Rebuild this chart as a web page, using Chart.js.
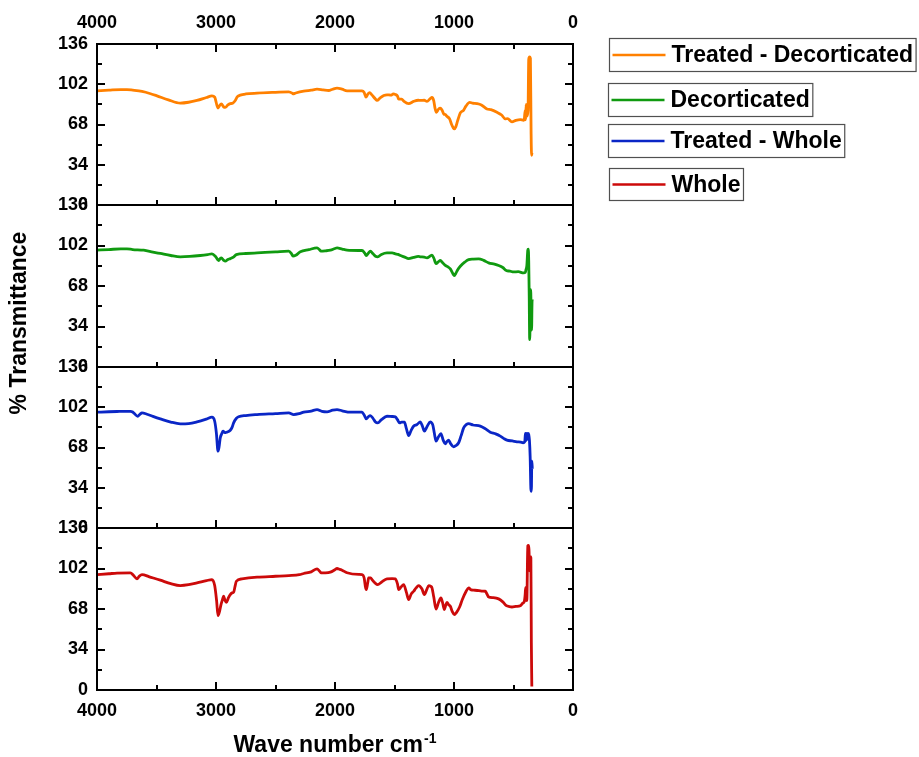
<!DOCTYPE html>
<html><head><meta charset="utf-8">
<script src="https://cdn.jsdelivr.net/npm/chart.js@4"></script>
<style>
html,body{margin:0;padding:0;background:#fff;}
#wrap{position:relative;width:919px;height:757px;overflow:hidden;}
#wrap canvas{position:absolute;left:0;top:0;}
</style>
</head><body>
<div id="wrap">
<canvas id="c1" width="919" height="757"></canvas>
<canvas id="c2" width="919" height="757"></canvas>
<canvas id="c3" width="919" height="757"></canvas>
<canvas id="c4" width="919" height="757"></canvas>
</div>
<script>
// ---- data ----
const seriesLabels = ['Treated - Decorticated', 'Decorticated', 'Treated - Whole', 'Whole'];
const xTicks = [0, 1000, 2000, 3000, 4000];
const xMinor = [500, 1500, 2500, 3500];
const yTicks = [0, 34, 68, 102, 136];
const yMinor = [17, 51, 85, 119];
const xTitle = 'Wave number cm';
const xTitleSup = '-1';
const yTitle = '% Transmittance';

// Treated - Decorticated
const tdWave = [4000,3900,3800,3748,3700,3622,3550,3496,3400,3300,3230,3160,3080,3034,3011,2983,2970,2955,2935,2922,2900,2880,2860,2838,2820,2796,2750,2655,2500,2389,2360,2353,2330,2263,2200,2151,2100,2053,2020,1983,1940,1899,1800,1773,1755,1740,1725,1709,1690,1660,1647,1620,1590,1563,1530,1510,1493,1475,1465,1440,1420,1381,1340,1300,1283,1250,1227,1200,1185,1170,1160,1148,1130,1115,1100,1085,1073,1060,1037,1020,1005,997,985,970,947,920,900,868,845,807,770,723,690,639,600,569,550,513,480,443,415,410,402,398,394,388,378,372,365,358,352,348,345];
const tdT = [96.4,97.0,97.5,97.5,97.0,95.9,94.0,92.2,88.8,86.1,86.8,88.3,90.8,92.2,91.1,81.9,84.0,85.3,82.8,82.5,84.5,85.6,86.0,88.3,91.5,92.8,93.8,94.5,95.2,95.6,94.5,93.9,94.6,96.1,97.0,97.8,97.2,96.7,97.8,98.7,97.8,96.4,96.4,96.4,95.0,91.1,93.5,95.0,93.0,89.5,88.3,90.5,92.5,93.1,92.8,93.8,93.4,92.0,89.5,89.5,87.5,85.6,87.5,88.5,88.3,88.5,87.5,89.8,90.9,88.0,82.0,78.3,81.0,81.9,80.0,76.8,76.4,75.0,72.7,68.0,65.0,64.4,66.0,71.0,77.8,80.0,83.5,86.7,86.0,85.6,84.5,81.1,80.5,78.3,76.0,72.7,73.0,70.2,71.5,72.2,71.6,72.0,80.0,72.0,85.0,75.0,80.0,123.0,125.0,124.0,60.0,42.0,44.0];

// Decorticated
const decWave = [4000,3900,3800,3748,3700,3608,3530,3468,3380,3300,3220,3132,3070,3034,3006,2985,2978,2965,2955,2935,2922,2900,2880,2850,2829,2750,2655,2500,2389,2365,2353,2330,2291,2220,2151,2130,2118,2080,2039,2000,1983,1940,1899,1800,1773,1750,1737,1720,1703,1680,1660,1641,1610,1563,1520,1493,1470,1451,1420,1381,1340,1300,1283,1250,1227,1200,1185,1170,1151,1130,1115,1095,1073,1050,1031,1010,997,985,970,947,910,877,840,793,750,709,660,625,590,560,530,499,460,415,400,395,388,380,376,372,368,364,360,356,352,348,344,340];
const decT = [98.1,98.6,99.2,99.2,98.6,98.1,96.5,95.3,93.6,92.5,92.8,93.6,94.4,95.0,93.0,90.0,89.4,91.0,91.6,89.5,88.8,90.2,91.0,92.5,94.4,95.3,95.8,96.6,97.2,95.0,93.0,93.8,96.7,98.5,100.0,98.5,97.2,97.5,98.1,99.5,100.0,99.0,98.1,97.8,97.8,95.5,93.6,95.5,97.2,95.0,93.0,92.5,94.5,95.8,95.8,95.0,94.5,93.6,92.5,91.0,92.0,92.8,92.5,92.2,91.6,93.2,93.9,91.5,86.8,88.5,89.4,87.5,85.4,84.0,82.4,78.5,76.7,78.5,81.5,84.6,88.0,90.2,90.6,90.8,89.5,87.4,86.3,85.2,83.5,81.0,80.5,79.8,80.0,79.0,79.5,81.8,85.0,98.0,99.0,89.0,60.0,23.0,40.0,65.0,50.0,31.0,55.0,57.0];

// Treated - Whole
const twWave = [4000,3900,3832,3720,3700,3686,3658,3640,3622,3580,3530,3468,3380,3300,3230,3160,3080,3034,3011,2997,2983,2975,2964,2950,2941,2925,2913,2895,2880,2865,2852,2830,2810,2750,2655,2500,2389,2347,2300,2263,2200,2151,2110,2067,2020,1983,1940,1871,1773,1755,1737,1720,1703,1680,1660,1641,1610,1563,1520,1493,1475,1457,1440,1417,1400,1381,1360,1340,1311,1283,1265,1249,1225,1199,1185,1177,1165,1151,1130,1110,1090,1073,1060,1045,1030,1003,985,961,940,919,895,877,840,779,740,695,650,611,580,555,510,471,440,420,405,400,393,388,383,378,372,366,360,354,350,346,342];
const twT = [97.8,98.2,98.4,98.6,98.0,96.7,94.4,96.0,97.2,96.1,94.3,92.2,89.5,88.0,88.2,89.6,92.0,93.6,90.2,80.4,64.9,68.0,76.2,80.0,81.8,80.5,80.9,81.5,82.6,85.0,88.8,92.5,93.9,95.0,95.8,96.6,97.2,95.8,96.6,97.8,98.8,100.0,98.5,98.1,99.5,100.0,99.0,97.8,97.8,95.5,92.2,94.0,95.0,92.5,89.5,88.8,91.5,94.4,94.2,93.9,91.5,88.8,89.5,89.4,84.0,78.1,82.5,86.0,87.4,89.6,86.0,81.8,86.0,89.6,88.5,86.6,80.0,73.4,77.0,79.8,74.0,71.1,73.0,74.2,71.5,68.6,69.5,72.0,78.0,84.6,87.5,88.2,87.0,86.0,84.0,80.9,79.5,77.6,75.5,74.2,73.5,72.8,72.5,72.0,73.0,80.0,74.0,80.0,75.0,80.0,79.0,74.0,60.0,33.0,31.0,56.5,50.0];

// Whole
const wWave = [4000,3900,3832,3720,3692,3664,3645,3622,3560,3468,3380,3300,3230,3160,3080,3034,3011,2995,2983,2970,2958,2945,2936,2925,2913,2895,2880,2865,2852,2840,2829,2782,2655,2500,2389,2300,2263,2200,2151,2130,2118,2080,2039,2000,1983,1960,1941,1899,1800,1773,1755,1745,1737,1725,1717,1700,1689,1660,1641,1610,1563,1520,1493,1475,1465,1445,1423,1400,1381,1360,1339,1320,1297,1270,1249,1230,1213,1195,1185,1170,1151,1130,1110,1095,1081,1070,1059,1045,1031,1015,997,980,953,930,900,877,855,835,790,760,737,720,709,670,625,590,560,535,513,480,443,420,410,402,398,392,388,380,374,370,364,358,354,350,346];
const wT = [96.9,97.6,98.1,98.4,96.1,93.3,95.5,96.9,95.0,92.2,89.3,87.7,88.4,89.9,91.8,92.7,87.7,75.0,62.4,66.0,71.7,76.0,78.7,75.5,73.6,77.5,80.1,81.5,82.1,87.0,91.3,93.3,94.7,95.5,96.1,96.8,97.8,99.2,101.7,99.8,98.4,98.4,98.9,101.0,102.0,101.2,100.6,98.4,97.0,96.9,94.0,87.0,84.3,90.0,94.1,94.2,92.7,89.5,88.5,90.5,93.3,93.5,93.3,89.0,84.3,86.5,88.5,82.0,75.9,80.5,82.9,85.5,87.7,85.0,80.1,84.0,87.7,87.0,85.7,78.0,68.0,73.5,77.3,73.0,67.5,71.0,73.6,71.5,70.3,66.0,63.3,65.0,69.7,76.0,82.5,85.7,84.0,83.8,83.5,83.0,82.9,80.0,78.1,77.5,76.5,74.0,70.8,70.0,69.7,70.2,70.8,73.1,74.0,80.0,86.0,76.0,75.0,121.0,121.4,118.0,100.0,112.0,111.0,40.0,3.0];

const seriesWave = [tdWave, decWave, twWave, wWave];
const seriesT = [tdT, decT, twT, wT];
const seriesColors = ['#FF8000', '#109A10', '#0A26C6', '#CC0A0A'];

// ---- layout (pixels) ----
const W = 919, H = 757;
const AREA_LEFT = 97, AREA_RIGHT = 573;
const panelTop = [44, 205, 367, 528];
const panelBottom = [205, 367, 528, 690];
const FONT = 'Liberation Sans, Arial, Helvetica, sans-serif';
const tickFont = {family: FONT, size: 18, weight: 'bold'};

function framePlugin(topTicks) {
  return {
    id: 'frame',
    afterDatasetsDraw(chart) {
      const ctx = chart.ctx, a = chart.chartArea, x = chart.scales.x, y = chart.scales.y;
      ctx.save();
      ctx.strokeStyle = '#000';
      ctx.lineWidth = 2;
      ctx.strokeRect(a.left, a.top, a.right - a.left, a.bottom - a.top);
      ctx.beginPath();
      const yt = (v, len) => {
        const p = Math.round(y.getPixelForValue(v));
        ctx.moveTo(a.left, p); ctx.lineTo(a.left + len, p);
        ctx.moveTo(a.right, p); ctx.lineTo(a.right - len, p);
      };
      const xt = (v, len) => {
        const p = Math.round(x.getPixelForValue(v));
        ctx.moveTo(p, a.bottom); ctx.lineTo(p, a.bottom - len);
        if (topTicks) { ctx.moveTo(p, a.top); ctx.lineTo(p, a.top + len); }
      };
      yTicks.forEach(v => yt(v, 8));
      yMinor.forEach(v => yt(v, 5));
      xTicks.forEach(v => xt(v, 8));
      xMinor.forEach(v => xt(v, 5));
      ctx.stroke();
      ctx.restore();
    }
  };
}

const decorPlugin = {
  id: 'decor',
  afterDraw(chart) {
    const ctx = chart.ctx;
    ctx.save();
    ctx.fillStyle = '#000';
    // x title with superscript
    const cx = (AREA_LEFT + AREA_RIGHT) / 2;
    ctx.font = 'bold 23px ' + FONT;
    const wMain = ctx.measureText(xTitle).width;
    ctx.font = 'bold 14px ' + FONT;
    const wSup = ctx.measureText(xTitleSup).width;
    const x0 = cx - (wMain + wSup + 1) / 2;
    ctx.textBaseline = 'alphabetic';
    ctx.textAlign = 'left';
    ctx.font = 'bold 23px ' + FONT;
    ctx.fillText(xTitle, x0, 752);
    ctx.font = 'bold 14px ' + FONT;
    ctx.fillText(xTitleSup, x0 + wMain + 1, 743);
    // y title
    ctx.translate(20, 323);
    ctx.rotate(-Math.PI / 2);
    ctx.font = 'bold 23px ' + FONT;
    ctx.textAlign = 'center';
    ctx.textBaseline = 'middle';
    ctx.fillText(yTitle, 0, 0);
    ctx.restore();

    // legend boxes
    const boxes = [[609.5, 38.5, 33], [608.5, 83.5, 33], [608.5, 124.5, 33], [609.5, 168.5, 32]];
    ctx.save();
    ctx.font = 'bold 23px ' + FONT;
    ctx.textBaseline = 'middle';
    ctx.textAlign = 'left';
    boxes.forEach((b, i) => {
      const [bx, by, bh] = b;
      const tx = bx + 62;
      const tw = ctx.measureText(seriesLabels[i]).width;
      const bw = tx + tw + 3 - bx;
      ctx.strokeStyle = '#505050';
      ctx.lineWidth = 1.2;
      ctx.strokeRect(bx, by, bw, bh);
      const cy = by + bh / 2;
      ctx.strokeStyle = seriesColors[i];
      ctx.lineWidth = 2.5;
      ctx.beginPath();
      ctx.moveTo(bx + 3, cy); ctx.lineTo(bx + 56, cy);
      ctx.stroke();
      ctx.fillStyle = '#000';
      ctx.fillText(seriesLabels[i], tx, cy + 1);
    });
    ctx.restore();
  }
};

function makeChart(id, idx, o) {
  const pts = seriesWave[idx].map((w, i) => ({x: w, y: seriesT[idx][i]}));
  const plugins = [framePlugin(idx === 0)];
  if (o.decor) plugins.push(decorPlugin);
  return new Chart(document.getElementById(id), {
    type: 'line',
    data: {datasets: [{
      label: seriesLabels[idx], data: pts, borderColor: seriesColors[idx],
      borderWidth: 2.8, pointRadius: 0, cubicInterpolationMode: 'monotone', fill: false,
      borderJoinStyle: 'round'
    }]},
    options: {
      responsive: false, animation: false, devicePixelRatio: 1,
      layout: {padding: {left: 0, right: W - AREA_RIGHT, top: o.padTop, bottom: o.padBottom}},
      plugins: {legend: {display: false}, tooltip: {enabled: false}, title: {display: false}},
      scales: {
        x: {
          type: 'linear', position: o.xPos, display: o.xShow, min: 0, max: 4000, reverse: true,
          afterBuildTicks: s => { s.ticks = xTicks.map(v => ({value: v})); },
          ticks: {font: tickFont, color: '#000', padding: 10, maxRotation: 0, autoSkip: false,
                  callback: v => String(v)},
          grid: {display: false, drawTicks: false}, border: {display: false},
          afterFit: s => { s.height = o.xHeight; }
        },
        y: {
          type: 'linear', position: 'left', min: 0, max: 136,
          afterBuildTicks: s => { s.ticks = yTicks.map(v => ({value: v})); },
          ticks: {font: tickFont, color: '#000', padding: 9, callback: v => String(v)},
          grid: {display: false, drawTicks: false}, border: {display: false},
          afterFit: s => { s.width = AREA_LEFT; }
        }
      }
    },
    plugins: plugins
  });
}

makeChart('c1', 0, {xPos: 'top', xShow: true, xHeight: panelTop[0], padTop: 0, padBottom: H - panelBottom[0], decor: true});
makeChart('c2', 1, {xPos: 'bottom', xShow: false, xHeight: 0, padTop: panelTop[1], padBottom: H - panelBottom[1]});
makeChart('c3', 2, {xPos: 'bottom', xShow: false, xHeight: 0, padTop: panelTop[2], padBottom: H - panelBottom[2]});
makeChart('c4', 3, {xPos: 'bottom', xShow: true, xHeight: H - panelBottom[3], padTop: panelTop[3], padBottom: 0});
</script>
</body></html>
